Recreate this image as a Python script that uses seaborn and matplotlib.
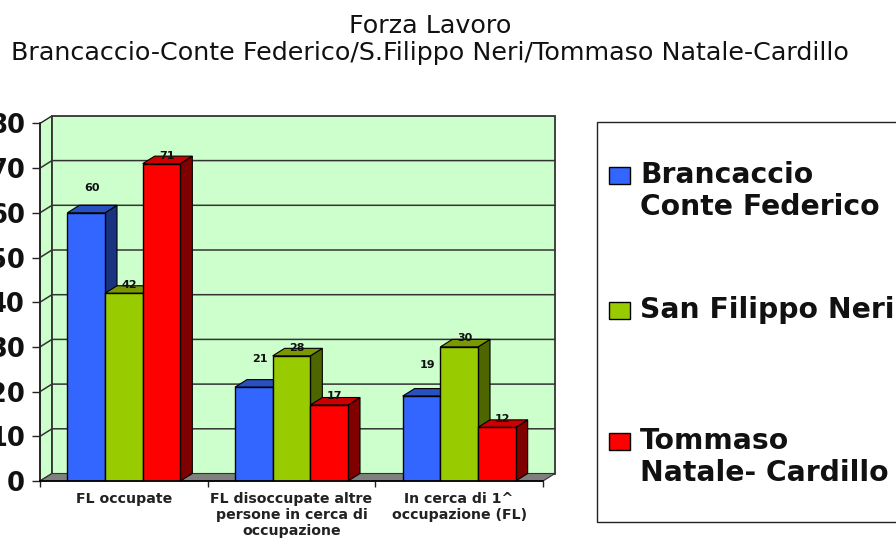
#!/usr/bin/env python

import pandas as pd
import matplotlib.pyplot as plt
import seaborn as sns
from matplotlib.patches import Polygon, Rectangle

categories = ["FL occupate", "FL disoccupate altre\npersone in cerca di\noccupazione", "In cerca di 1^\noccupazione (FL)"]
series = ["Brancaccio\nConte Federico", "San Filippo Neri", "Tommaso\nNatale- Cardillo"]
brancaccio = [60, 21, 19]
san_filippo = [42, 28, 30]
tommaso = [71, 17, 12]
y_ticks = [0, 10, 20, 30, 40, 50, 60, 70, 80]

front = ["#3366FF", "#99CC00", "#FF0000"]
top = ["#2850C0", "#7A9900", "#CC0000"]
side = ["#1A3380", "#4D6600", "#800000"]
wall = "#CCFFCC"

# how far the labels float above each bar, in px
label_up = [[25, 28, 31], [8, 8, 9], [8, 9, 8]]

W, H = 896, 538
DEPTH_X = 12 / 167.7
DEPTH_Y = 7.5 / 4.47

sns.set_theme(style="white")
plt.rcParams['font.family'] = ['DejaVu Sans']

df = pd.DataFrame({
    "cat": categories * 3,
    "serie": [s for s in series for _ in categories],
    "val": brancaccio + san_filippo + tommaso,
})

fig = plt.figure(figsize=(W / 100, H / 100), dpi=100)
ax = fig.add_axes([40 / W, 1 - 481 / H, 503 / W, 357.6 / H])

sns.barplot(data=df, x="cat", y="val", hue="serie", hue_order=series, order=categories,
            palette=front, width=0.674, gap=0, saturation=1, legend=False, ax=ax,
            edgecolor="black", linewidth=1)

ax.set_xlim(-0.5, 2.5)
ax.set_ylim(0, 80)
ax.set_xlabel("")
ax.set_ylabel("")
ax.set_facecolor("none")

x0, x1 = ax.get_xlim()
y0, y1 = ax.get_ylim()

# walls and floor of the fake 3d box
ax.add_patch(Polygon([(x0, y0), (x0 + DEPTH_X, y0 + DEPTH_Y), (x0 + DEPTH_X, y1 + DEPTH_Y), (x0, y1)],
                     fc=wall, ec="#222222", lw=1, clip_on=False, zorder=0))
ax.add_patch(Rectangle((x0 + DEPTH_X, y0 + DEPTH_Y), x1 - x0, y1 - y0,
                       fc=wall, ec="#333333", lw=1.3, clip_on=False, zorder=0))
ax.add_patch(Polygon([(x0, y0), (x1, y0), (x1 + DEPTH_X, y0 + DEPTH_Y), (x0 + DEPTH_X, y0 + DEPTH_Y)],
                     fc="#808080", ec="#333333", lw=0.8, clip_on=False, zorder=1))
for t in y_ticks[1:-1]:
    ax.plot([x0, x0 + DEPTH_X, x1 + DEPTH_X], [t, t + DEPTH_Y, t + DEPTH_Y],
            color="#333333", lw=1.1, clip_on=False, zorder=1)

# side and top faces come from the bars seaborn drew
for i, cont in enumerate(ax.containers):
    for j, bar in enumerate(cont):
        bx, bw, bh = bar.get_x(), bar.get_width(), bar.get_height()
        z = 3 + i
        ax.add_patch(Polygon([(bx + bw, 0), (bx + bw + DEPTH_X, DEPTH_Y), (bx + bw + DEPTH_X, bh + DEPTH_Y), (bx + bw, bh)],
                             fc=side[i], ec="black", lw=0.8, clip_on=False, zorder=z))
        ax.add_patch(Polygon([(bx, bh), (bx + DEPTH_X, bh + DEPTH_Y), (bx + bw + DEPTH_X, bh + DEPTH_Y), (bx + bw, bh)],
                             fc=top[i], ec="black", lw=0.8, clip_on=False, zorder=z))
        bar.set_zorder(z + 0.5)
        ax.annotate(f"{bh:.0f}", (bx + bw / 2, bh), xytext=(4, label_up[i][j] * 0.72),
                    textcoords="offset points", ha="center", va="center",
                    fontsize=8, fontweight="bold", color="#111111", zorder=10)

sns.despine(ax=ax, top=True, right=True)
ax.spines["left"].set_color("#222222")
ax.spines["bottom"].set_color("black")
ax.spines["bottom"].set_zorder(8)

ax.set_yticks(y_ticks)
ax.set_yticklabels([str(t) for t in y_ticks], fontsize=18.5, fontweight="bold", color="#111111")
ax.tick_params(axis="y", length=5.8, width=1, color="#222222", pad=5, left=True)

ax.set_xticks(range(3))
ax.set_xticklabels(categories, fontsize=10.2, fontweight="bold", color="#222222", linespacing=1.17)
ax.set_xticks([-0.5, 0.5, 1.5, 2.5], minor=True)
ax.tick_params(axis="x", which="major", length=0, pad=8)
ax.tick_params(axis="x", which="minor", length=4, width=1, color="#222222", bottom=True)

fig.text(430 / W, 1 - 26 / H, "Forza Lavoro", ha="center", va="center", fontsize=18.3, color="#111111")
fig.text(430 / W, 1 - 53 / H, "Brancaccio-Conte Federico/S.Filippo Neri/Tommaso Natale-Cardillo",
         ha="center", va="center", fontsize=18.3, color="#111111")

# legend box runs off the right edge in the original
fig.add_artist(Rectangle((597 / W, 1 - 522 / H), 320 / W, 400 / H, transform=fig.transFigure,
                         fc="white", ec="#222222", lw=1))
legend_y = [175, 310, 441]
for name, c, ly in zip(series, front, legend_y):
    fig.add_artist(Rectangle((609 / W, 1 - (ly + 9) / H), 21 / W, 17 / H, transform=fig.transFigure,
                             fc=c, ec="black", lw=1))
    fig.text(640 / W, 1 - (ly - 14) / H, name, ha="left", va="top", fontsize=20.3,
             fontweight="bold", color="#111111", linespacing=1.16)

fig.savefig("out.png", dpi=100)
